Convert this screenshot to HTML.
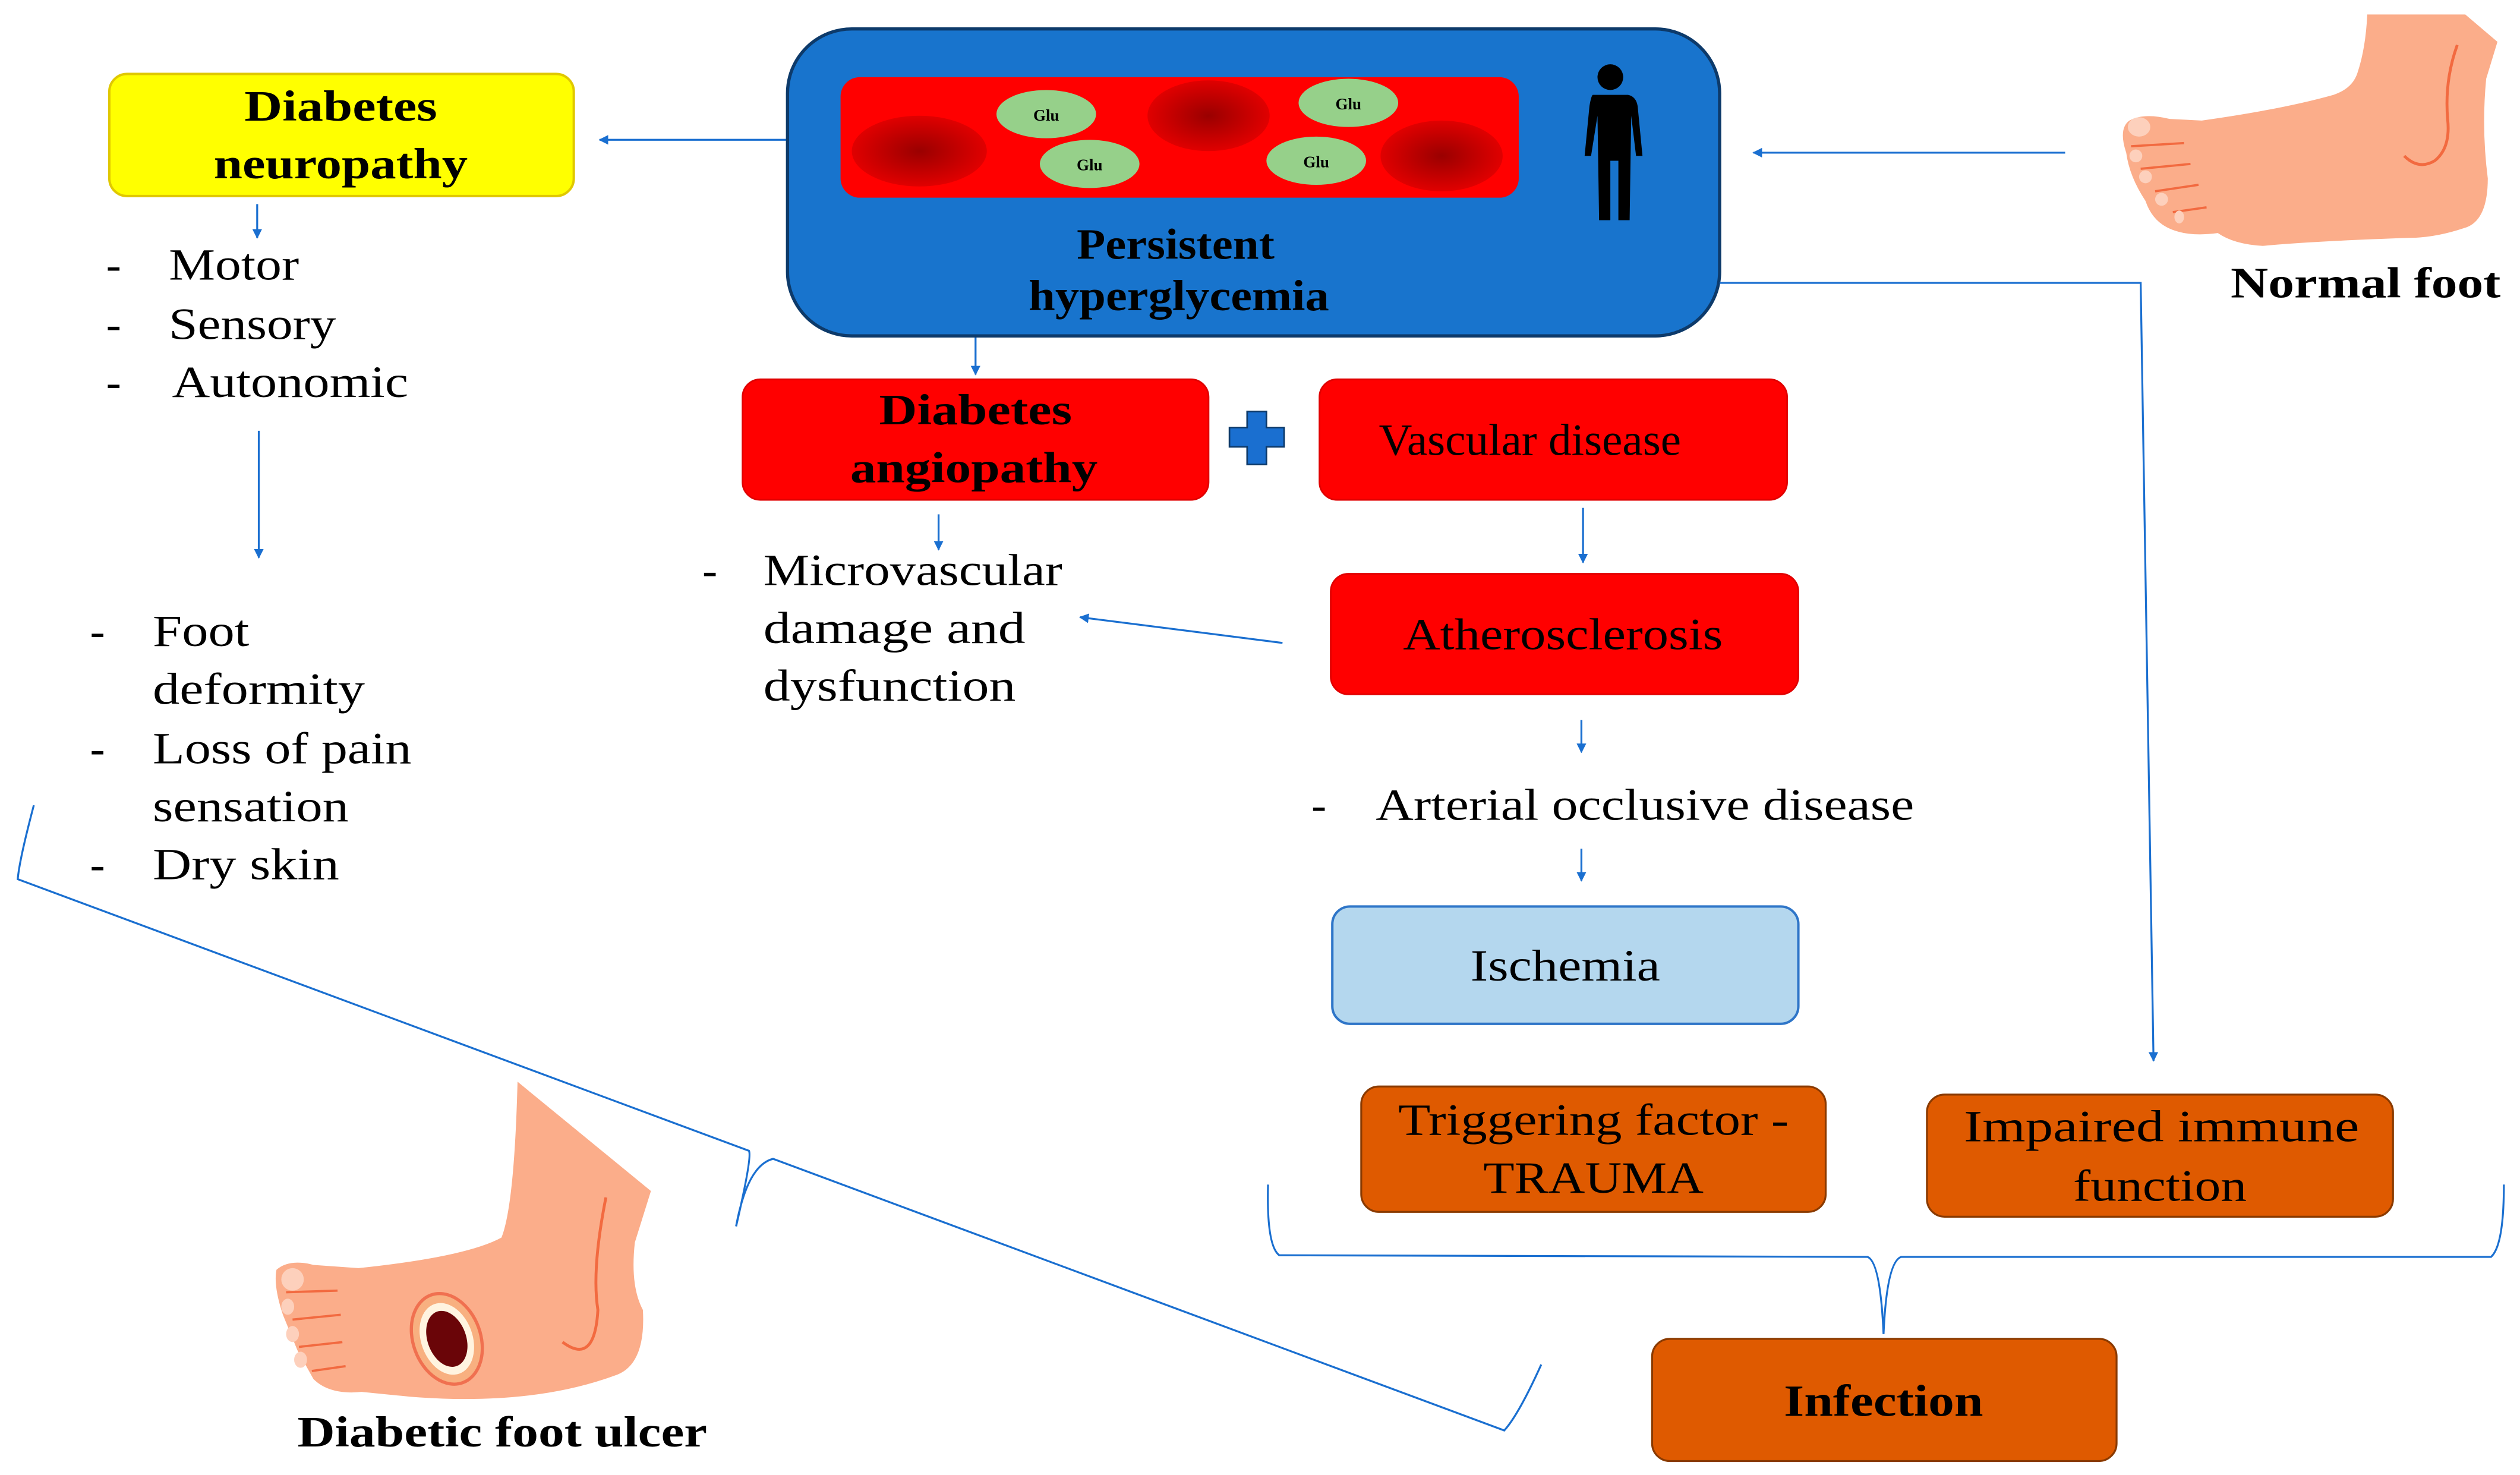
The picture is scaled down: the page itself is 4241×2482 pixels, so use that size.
<!DOCTYPE html>
<html><head><meta charset="utf-8"><style>
html,body{margin:0;padding:0;background:#fff;}
svg{display:block;}
text{font-family:"Liberation Serif",serif;fill:#000;}
.b{font-weight:bold;}
</style></head><body>
<svg width="4241" height="2482" viewBox="0 0 1568 917.7" xmlns="http://www.w3.org/2000/svg">
<defs>
<marker id="ar" viewBox="0 0 10 10" refX="9" refY="5" markerWidth="5" markerHeight="5" orient="auto-start-reverse">
<path d="M0,0 L10,5 L0,10 z" fill="#1a6fd0"/></marker>
<radialGradient id="rbc"><stop offset="0" stop-color="#9a0000"/><stop offset="1" stop-color="#e00000"/></radialGradient>
<clipPath id="ves"><rect x="523" y="48" width="422" height="75" rx="12"/></clipPath>
</defs>

<!-- Neuropathy -->
<rect x="68" y="46" width="289" height="76" rx="11" fill="#ffff00" stroke="#e0c800" stroke-width="1.5"/>
<text class="b" x="152" y="75" font-size="27" textLength="120" lengthAdjust="spacingAndGlyphs">Diabetes</text>
<text class="b" x="133" y="111" font-size="27" textLength="158" lengthAdjust="spacingAndGlyphs">neuropathy</text>
<line x1="490" y1="87" x2="373" y2="87" stroke="#1a6fd0" stroke-width="1.2" marker-end="url(#ar)"/>
<line x1="160" y1="127" x2="160" y2="148" stroke="#1a6fd0" stroke-width="1.2" marker-end="url(#ar)"/>
<g font-size="28" lengthAdjust="spacingAndGlyphs">
<text x="66" y="174">-</text><text x="105" y="174" textLength="81" lengthAdjust="spacingAndGlyphs">Motor</text>
<text x="66" y="211">-</text><text x="105" y="211" textLength="104" lengthAdjust="spacingAndGlyphs">Sensory</text>
<text x="66" y="247">-</text><text x="107" y="247" textLength="147" lengthAdjust="spacingAndGlyphs">Autonomic</text>
</g>
<line x1="161" y1="268" x2="161" y2="347" stroke="#1a6fd0" stroke-width="1.2" marker-end="url(#ar)"/>
<g font-size="28">
<text x="56" y="402">-</text><text x="95" y="402" textLength="60" lengthAdjust="spacingAndGlyphs">Foot</text>
<text x="95" y="438" textLength="132" lengthAdjust="spacingAndGlyphs">deformity</text>
<text x="56" y="475">-</text><text x="95" y="475" textLength="161" lengthAdjust="spacingAndGlyphs">Loss of pain</text>
<text x="95" y="511" textLength="122" lengthAdjust="spacingAndGlyphs">sensation</text>
<text x="56" y="547">-</text><text x="95" y="547" textLength="116" lengthAdjust="spacingAndGlyphs">Dry skin</text>
</g>

<!-- Blue box -->
<rect x="490" y="18" width="580" height="191" rx="40" fill="#1874cd" stroke="#0d3a6a" stroke-width="2"/>
<rect x="523" y="48" width="422" height="75" rx="12" fill="#ff0000"/>
<g clip-path="url(#ves)">
<ellipse cx="572" cy="94" rx="42" ry="22" fill="url(#rbc)"/>
<ellipse cx="752" cy="72" rx="38" ry="22" fill="url(#rbc)"/>
<ellipse cx="897" cy="97" rx="38" ry="22" fill="url(#rbc)"/>
</g>
<g fill="#96d08a"><ellipse cx="651" cy="71" rx="31" ry="15"/><ellipse cx="678" cy="102" rx="31" ry="15"/><ellipse cx="839" cy="64" rx="31" ry="15"/><ellipse cx="819" cy="100" rx="31" ry="15"/></g>
<g font-size="10" class="b" text-anchor="middle" font-family="Liberation Sans, sans-serif"><text x="651" y="75">Glu</text><text x="678" y="106">Glu</text><text x="839" y="68">Glu</text><text x="819" y="104">Glu</text></g>
<g fill="#000"><circle cx="1002" cy="48" r="8"/><path d="M991,59 L1013,59 Q1018,60 1019,66 L1022,97 L1018,97 L1015,72 L1014,137 L1007,137 L1007,100 L1002,100 L1002,137 L995,137 L994,72 L990,97 L986,97 L989,66 Q990,60 991,59 z"/></g>
<text class="b" x="670" y="161" font-size="27" textLength="123" lengthAdjust="spacingAndGlyphs">Persistent</text>
<text class="b" x="640" y="193" font-size="27" textLength="187" lengthAdjust="spacingAndGlyphs">hyperglycemia</text>

<!-- Normal foot -->
<path d="M1473,9 L1534,9 L1554,26 L1547,49 Q1544,80 1548,111 Q1548,138 1533,142 Q1515,148 1499,148 Q1440,150 1408,153 Q1390,152 1380,145 Q1365,147 1355,144 Q1340,140 1335,125 Q1325,110 1323,95 Q1318,80 1325,75 Q1334,70 1350,74 L1370,75 Q1420,68 1452,59 Q1464,55 1467,45 Q1472,30 1473,9 z" fill="#fbad8a"/>
<path d="M1529,28 Q1521,50 1523,74 Q1525,92 1515,100 Q1505,106 1496,97" fill="none" stroke="#f26a40" stroke-width="1.8"/>
<g stroke="#f26a40" stroke-width="1.4" fill="none"><path d="M1326,91 L1359,89"/><path d="M1332,105 L1363,102"/><path d="M1341,119 L1368,115"/><path d="M1352,132 L1373,129"/></g>
<g fill="#fdd0bc"><ellipse cx="1331" cy="79" rx="7" ry="6"/><ellipse cx="1329" cy="97" rx="4" ry="4"/><ellipse cx="1335" cy="110" rx="4" ry="4"/><ellipse cx="1345" cy="124" rx="4" ry="4"/><ellipse cx="1356" cy="135" rx="3" ry="4"/></g>
<text class="b" x="1388" y="185" font-size="27" textLength="168" lengthAdjust="spacingAndGlyphs">Normal foot</text>
<line x1="1285" y1="95" x2="1091" y2="95" stroke="#1a6fd0" stroke-width="1.2" marker-end="url(#ar)"/>
<polyline points="1070,176 1332,176 1340,660" fill="none" stroke="#1a6fd0" stroke-width="1.2" marker-end="url(#ar)"/>

<!-- angiopathy -->
<line x1="607" y1="210" x2="607" y2="233" stroke="#1a6fd0" stroke-width="1.2" marker-end="url(#ar)"/>
<rect x="462" y="236" width="290" height="75" rx="11" fill="#ff0000" stroke="#e00000"/>
<text class="b" x="547" y="264" font-size="27" textLength="120" lengthAdjust="spacingAndGlyphs">Diabetes</text>
<text class="b" x="529" y="300" font-size="27" textLength="154" lengthAdjust="spacingAndGlyphs">angiopathy</text>
<path d="M776,256 h12 v10 h11 v12 h-11 v11 h-12 v-11 h-11 v-12 h11 z" fill="#1a6fd0" stroke="#0d3a6a" stroke-width="1"/>
<rect x="821" y="236" width="291" height="75" rx="11" fill="#ff0000" stroke="#e00000"/>
<text x="858" y="283" font-size="28" textLength="188" lengthAdjust="spacingAndGlyphs">Vascular disease</text>
<line x1="985" y1="316" x2="985" y2="350" stroke="#1a6fd0" stroke-width="1.2" marker-end="url(#ar)"/>
<rect x="828" y="357" width="291" height="75" rx="11" fill="#ff0000" stroke="#e00000"/>
<text x="873" y="404" font-size="28" textLength="199" lengthAdjust="spacingAndGlyphs">Atherosclerosis</text>
<line x1="798" y1="400" x2="672" y2="384" stroke="#1a6fd0" stroke-width="1.2" marker-end="url(#ar)"/>
<line x1="584" y1="320" x2="584" y2="342" stroke="#1a6fd0" stroke-width="1.2" marker-end="url(#ar)"/>
<g font-size="28">
<text x="437" y="364">-</text><text x="475" y="364" textLength="186" lengthAdjust="spacingAndGlyphs">Microvascular</text>
<text x="475" y="400" textLength="163" lengthAdjust="spacingAndGlyphs">damage and</text>
<text x="475" y="436" textLength="157" lengthAdjust="spacingAndGlyphs">dysfunction</text>
</g>
<line x1="984" y1="448" x2="984" y2="468" stroke="#1a6fd0" stroke-width="1.2" marker-end="url(#ar)"/>
<text x="816" y="510" font-size="28">-</text><text x="856" y="510" font-size="28" textLength="335" lengthAdjust="spacingAndGlyphs">Arterial occlusive disease</text>
<line x1="984" y1="528" x2="984" y2="548" stroke="#1a6fd0" stroke-width="1.2" marker-end="url(#ar)"/>
<rect x="829" y="564" width="290" height="73" rx="11" fill="#b4d7ee" stroke="#2e75c8" stroke-width="1.5"/>
<text x="915" y="610" font-size="28" textLength="118" lengthAdjust="spacingAndGlyphs">Ischemia</text>

<rect x="847" y="676" width="289" height="78" rx="11" fill="#df5a00" stroke="#8a3a00" stroke-width="1.2"/>
<text x="870" y="706" font-size="28" textLength="243" lengthAdjust="spacingAndGlyphs">Triggering factor -</text>
<text x="923" y="742" font-size="28" textLength="137" lengthAdjust="spacingAndGlyphs">TRAUMA</text>
<rect x="1199" y="681" width="290" height="76" rx="11" fill="#df5a00" stroke="#8a3a00" stroke-width="1.2"/>
<text x="1222" y="710" font-size="28" textLength="246" lengthAdjust="spacingAndGlyphs">Impaired immune</text>
<text x="1290" y="747" font-size="28" textLength="108" lengthAdjust="spacingAndGlyphs">function</text>

<path d="M789,737 Q788,775 796,781 L1162,782 Q1170,785 1172,830 Q1174,785 1183,782 L1550,782 Q1558,775 1558,737" fill="none" stroke="#1a6fd0" stroke-width="1.2"/>
<rect x="1028" y="833" width="289" height="76" rx="11" fill="#df5a00" stroke="#8a3a00" stroke-width="1.2"/>
<text class="b" x="1110" y="881" font-size="28" textLength="124" lengthAdjust="spacingAndGlyphs">Infection</text>

<!-- big brace -->
<path d="M21,501 Q12,535 11,547 L466,716 Q468,720 458,763 Q465,725 481,721 L936,890 Q945,880 959,849" fill="none" stroke="#1a6fd0" stroke-width="1.2"/>

<!-- ulcer foot -->
<path d="M322,673 L405,741 L395,773 Q392,800 400,815 Q402,850 382,856 Q330,875 255,869 Q235,867 225,866 Q205,868 195,858 L185,840 L176,818 Q170,800 172,790 Q180,783 195,787 L223,789 Q290,782 312,770 Q320,750 322,673 z" fill="#fbad8a"/>
<path d="M377,745 Q368,790 372,815 Q370,850 350,835" fill="none" stroke="#f26a40" stroke-width="1.8"/>
<g stroke="#f26a40" stroke-width="1.4" fill="none"><path d="M178,804 L210,803"/><path d="M182,821 L212,818"/><path d="M186,838 L213,835"/><path d="M194,853 L215,850"/></g>
<g fill="#fdd0bc"><ellipse cx="182" cy="796" rx="7" ry="7"/><ellipse cx="179" cy="813" rx="4" ry="5"/><ellipse cx="182" cy="830" rx="4" ry="5"/><ellipse cx="187" cy="846" rx="4" ry="5"/></g>
<ellipse cx="278" cy="833" rx="21" ry="29" transform="rotate(-20 278 833)" fill="#f8b080" stroke="#f07050" stroke-width="2"/>
<ellipse cx="278" cy="833" rx="16" ry="23" transform="rotate(-20 278 833)" fill="#fff4e0"/>
<ellipse cx="278" cy="833" rx="12" ry="18" transform="rotate(-20 278 833)" fill="#6a0508"/>
<text class="b" x="185" y="900" font-size="27" textLength="255" lengthAdjust="spacingAndGlyphs">Diabetic foot ulcer</text>
</svg>
</body></html>
